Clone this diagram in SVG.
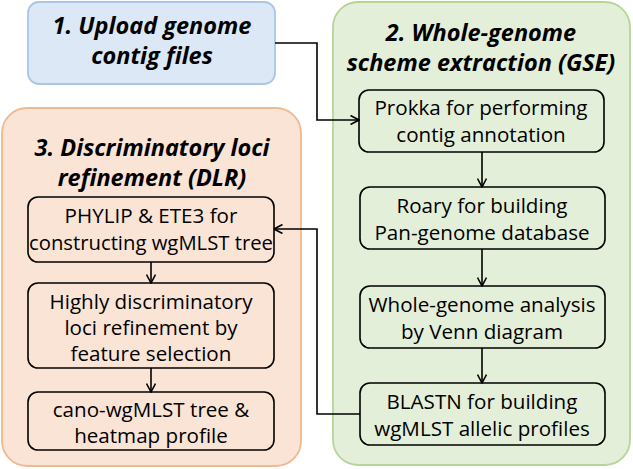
<svg xmlns="http://www.w3.org/2000/svg" width="633" height="469" viewBox="0 0 633 469">
<defs>
<marker id="arr" viewBox="0 0 10 10" refX="9.5" refY="5" markerWidth="10" markerHeight="10" markerUnits="userSpaceOnUse" orient="auto">
<path d="M1,0.5 L9.5,5 L1,9.5" fill="none" stroke="#000" stroke-width="1.6"/>
</marker>
<style>
.title{font-family:"Open Sans",Lato,sans-serif;font-weight:bold;font-style:italic;font-size:23.5px;fill:#000;text-anchor:middle}
.lbl{font-family:"Open Sans",Lato,sans-serif;font-size:20.6px;fill:#000;text-anchor:middle}
.box{fill:none;stroke:#000;stroke-width:1.6}
.conn{fill:none;stroke:#000;stroke-width:1.6}
</style>
</defs>
<g id="stage1">
<rect x="28" y="2" width="247" height="82" rx="11" fill="#dce8f5" stroke="#a9c6e8" stroke-width="1.8"/>
<text class="title" x="152" y="34">1. Upload genome</text>
<text class="title" x="152" y="64">contig files</text>
</g>
<g id="stage3">
<rect x="2" y="108" width="299" height="358" rx="25" fill="#f9e4d6" stroke="#efb98f" stroke-width="1.8"/>
<text class="title" x="152" y="156">3. Discriminatory loci</text>
<text class="title" x="152" y="186">refinement (DLR)</text>
</g>
<g id="stage2">
<rect x="333" y="2" width="297" height="463" rx="25" fill="#e4efd9" stroke="#b5d59b" stroke-width="1.8"/>
<text class="title" x="481" y="41">2. Whole-genome</text>
<text class="title" x="481" y="71">scheme extraction (GSE)</text>
</g>
<g id="prokka">
<rect class="box" x="359" y="90" width="245" height="62" rx="10"/>
<text class="lbl" x="481" y="115">Prokka for performing</text>
<text class="lbl" x="481" y="142">contig annotation</text>
</g>
<g id="roary">
<rect class="box" x="360" y="187" width="245" height="62" rx="10"/>
<text class="lbl" x="482" y="213">Roary for building</text>
<text class="lbl" x="482" y="240">Pan-genome database</text>
</g>
<g id="venn">
<rect class="box" x="360" y="286" width="245" height="62" rx="10"/>
<text class="lbl" x="482" y="312">Whole-genome analysis</text>
<text class="lbl" x="482" y="339">by Venn diagram</text>
</g>
<g id="blastn">
<rect class="box" x="360" y="383" width="245" height="62" rx="10"/>
<text class="lbl" x="482" y="409">BLASTN for building</text>
<text class="lbl" x="482" y="436">wgMLST allelic profiles</text>
</g>
<g id="phylip">
<rect class="box" x="28" y="197" width="246" height="65" rx="10"/>
<text class="lbl" x="151" y="223">PHYLIP &amp; ETE3 for</text>
<text class="lbl" x="151" y="250" textLength="244" lengthAdjust="spacingAndGlyphs">constructing wgMLST tree</text>
</g>
<g id="feature">
<rect class="box" x="28" y="283" width="246" height="85" rx="10"/>
<text class="lbl" x="151" y="309">Highly discriminatory</text>
<text class="lbl" x="151" y="335">loci refinement by</text>
<text class="lbl" x="151" y="361">feature selection</text>
</g>
<g id="cano">
<rect class="box" x="28" y="392" width="246" height="58" rx="10"/>
<text class="lbl" x="151" y="417">cano-wgMLST tree &amp;</text>
<text class="lbl" x="151" y="443">heatmap profile</text>
</g>
<g id="connectors">
<path class="conn" d="M275,43 H317 V120 H359" marker-end="url(#arr)"/>
<path class="conn" d="M482,152 V187" marker-end="url(#arr)"/>
<path class="conn" d="M482,249 V286" marker-end="url(#arr)"/>
<path class="conn" d="M482,348 V383" marker-end="url(#arr)"/>
<path class="conn" d="M360,414 H317 V229 H274" marker-end="url(#arr)"/>
<path class="conn" d="M151,262 V283" marker-end="url(#arr)"/>
<path class="conn" d="M151,368 V392" marker-end="url(#arr)"/>
</g>
</svg>
